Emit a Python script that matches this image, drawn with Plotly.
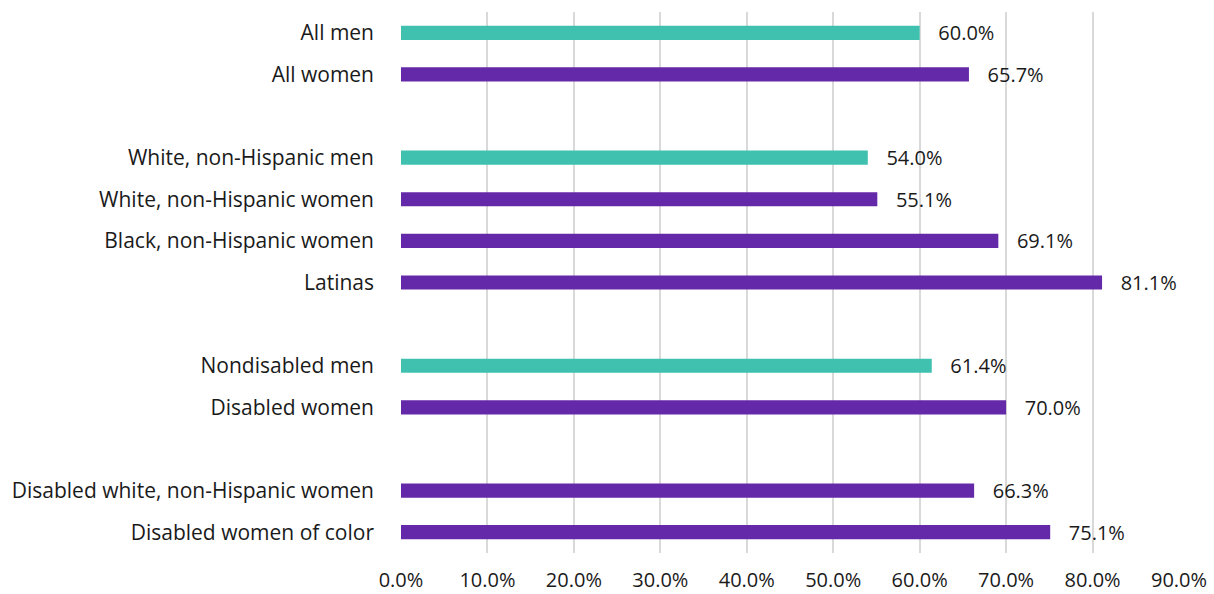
import plotly.graph_objects as go

# Rows from top to bottom; blank keys separate the groups
categories = [
    "All men", "All women", "gap1",
    "White, non-Hispanic men", "White, non-Hispanic women",
    "Black, non-Hispanic women", "Latinas", "gap2",
    "Nondisabled men", "Disabled women", "gap3",
    "Disabled white, non-Hispanic women", "Disabled women of color",
]
men_labels = ["All men", "White, non-Hispanic men", "Nondisabled men"]
men_values = [60.0, 54.0, 61.4]
women_labels = [
    "All women", "White, non-Hispanic women", "Black, non-Hispanic women",
    "Latinas", "Disabled women", "Disabled white, non-Hispanic women",
    "Disabled women of color",
]
women_values = [65.7, 55.1, 69.1, 81.1, 70.0, 66.3, 75.1]
x_ticks = [0, 10, 20, 30, 40, 50, 60, 70, 80, 90]

TEAL = "#40C1B0"
PURPLE = "#6429A8"
FONT = "Open Sans"
INK = "#1a1a1a"

fig = go.Figure()
for labels, values, color in [(men_labels, men_values, TEAL),
                              (women_labels, women_values, PURPLE)]:
    fig.add_trace(go.Bar(
        y=labels, x=values, orientation="h",
        marker=dict(color=color, line=dict(width=0)),
        width=0.34,
        text=[f"{v:.1f}%" for v in values],
        texttemplate="   %{text}",
        textposition="outside",
        constraintext="none",
        textfont=dict(family=FONT, size=20, color=INK),
        cliponaxis=False,
        showlegend=False,
    ))

fig.update_layout(
    width=1214, height=594,
    margin=dict(l=401, r=35, t=12, b=41),
    paper_bgcolor="white", plot_bgcolor="white",
    barmode="overlay",
    font=dict(family=FONT, size=20, color=INK),
)
fig.update_xaxes(
    range=[0, 90], tickvals=x_ticks,
    ticktext=[f"{v:.1f}%" for v in x_ticks],
    showgrid=True, gridcolor="#D9D9D9", gridwidth=2,
    zeroline=False, showline=False, ticks="",
    ticklabelstandoff=13, automargin=False,
    tickfont=dict(family=FONT, size=20, color=INK),
)
fig.update_yaxes(
    type="category", categoryorder="array",
    categoryarray=categories[::-1],
    tickvals=categories,
    ticktext=["" if c.startswith("gap") else c for c in categories],
    showgrid=False, zeroline=False, showline=False, ticks="",
    ticklabelstandoff=26, automargin=False,
    tickfont=dict(family=FONT, size=21, color=INK),
)

fig.write_html("out.html")
